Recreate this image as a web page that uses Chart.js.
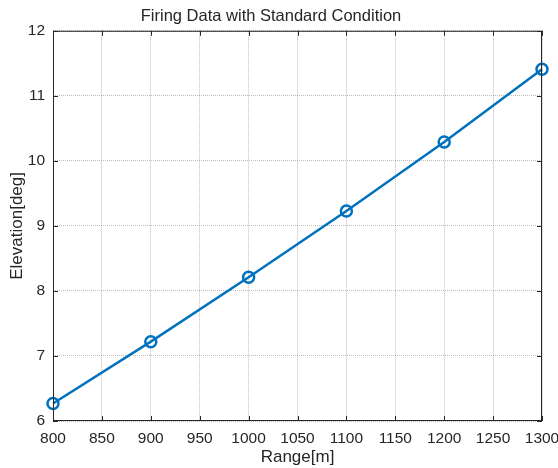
<!DOCTYPE html>
<html>
<head>
<meta charset="utf-8">
<script src="https://cdn.jsdelivr.net/npm/chart.js@4"></script>
<style>
html, body { margin: 0; padding: 0; background: #fff; }
</style>
</head>
<body>
<canvas id="grafico" width="558" height="468"></canvas>
<script>
// dados
const alcances = [800, 900, 1000, 1100, 1200, 1300];
const elevacoes = [6.27, 7.22, 8.21, 9.23, 10.29, 11.41];
const ticksX = [800, 850, 900, 950, 1000, 1050, 1100, 1150, 1200, 1250, 1300];
const ticksY = [6, 7, 8, 9, 10, 11, 12];

const COR_EIXO = '#262626';
const FONTE = '"Liberation Sans", Arial, sans-serif';

// caixa em volta + ticks pra dentro (estilo matlab)
const caixaPlugin = {
    id: 'caixa',
    afterDatasetsDraw(chart) {
        const { ctx, chartArea: a, scales } = chart;
        ctx.save();
        ctx.strokeStyle = COR_EIXO;
        ctx.lineWidth = 1;
        ctx.strokeRect(a.left + 0.5, a.top + 0.5, a.right - a.left - 1, a.bottom - a.top - 1);
        ctx.beginPath();
        const t = 5;
        ticksX.forEach(v => {
            const x = Math.round(scales.x.getPixelForValue(v)) + 0.5;
            ctx.moveTo(x, a.bottom); ctx.lineTo(x, a.bottom - t);
            ctx.moveTo(x, a.top); ctx.lineTo(x, a.top + t);
        });
        ticksY.forEach(v => {
            const y = Math.round(scales.y.getPixelForValue(v)) + 0.5;
            ctx.moveTo(a.left, y); ctx.lineTo(a.left + t, y);
            ctx.moveTo(a.right, y); ctx.lineTo(a.right - t, y);
        });
        ctx.stroke();
        ctx.restore();
    }
};

const grafico = new Chart(document.getElementById('grafico').getContext('2d'), {
    type: 'line',
    data: {
        datasets: [{
            data: alcances.map((x, i) => ({ x: x, y: elevacoes[i] })),
            borderColor: '#0072BD',
            borderWidth: 2.5,
            pointRadius: 5.5,
            pointBorderWidth: 2.5,
            pointBackgroundColor: 'rgba(0,0,0,0)',
            pointBorderColor: '#0072BD',
            tension: 0,
            clip: false
        }]
    },
    options: {
        responsive: false,
        devicePixelRatio: 1,
        animation: false,
        layout: { padding: { left: 0, right: 16, top: 0, bottom: 0 } },
        plugins: {
            legend: { display: false },
            tooltip: { enabled: false },
            title: {
                display: true,
                text: 'Firing Data with Standard Condition',
                color: COR_EIXO,
                font: { family: FONTE, size: 16.5, weight: 'normal', lineHeight: 1.2 },
                padding: { top: 7, bottom: 4 }
            }
        },
        scales: {
            x: {
                type: 'linear',
                min: 800, max: 1300,
                afterBuildTicks: s => { s.ticks = ticksX.map(v => ({ value: v })); },
                afterFit: s => { s.height = 47; s.paddingLeft = 0; s.paddingRight = 0; },
                grid: { color: 'rgba(38,38,38,0.3)', drawTicks: false },
                border: { display: false, dash: [1, 1] },
                ticks: { color: COR_EIXO, padding: 8, maxRotation: 0, autoSkip: false,
                         callback: v => String(v),
                         font: { family: FONTE, size: 15.5 } },
                title: { display: true, text: 'Range[m]', color: COR_EIXO,
                         font: { family: FONTE, size: 17, lineHeight: 1 }, padding: { top: 2, bottom: 2 } }
            },
            y: {
                type: 'linear',
                min: 6, max: 12,
                afterBuildTicks: s => { s.ticks = ticksY.map(v => ({ value: v })); },
                afterFit: s => { s.width = 53; s.paddingTop = 0; s.paddingBottom = 0; },
                grid: { color: 'rgba(38,38,38,0.3)', drawTicks: false },
                border: { display: false, dash: [1, 1] },
                ticks: { color: COR_EIXO, padding: 8, autoSkip: false,
                         callback: v => String(v),
                         font: { family: FONTE, size: 15.5 } },
                title: { display: true, text: 'Elevation[deg]', color: COR_EIXO,
                         font: { family: FONTE, size: 17, lineHeight: 1 }, padding: { top: 8.5, bottom: 0 } }
            }
        }
    },
    plugins: [caixaPlugin]
});
</script>
</body>
</html>
